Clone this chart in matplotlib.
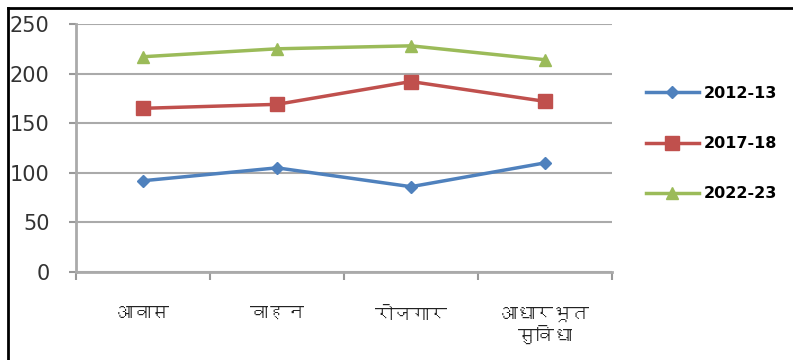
import matplotlib
matplotlib.use('Agg')
import matplotlib.pyplot as plt
from matplotlib import font_manager
from matplotlib.ft2font import FT2Font
from matplotlib.lines import Line2D

categories = ['आवास', 'वाहन', 'रोजगार', 'आधारभूत\nसुविधा']
years = ['2012-13', '2017-18', '2022-23']
v2012 = [92, 105, 86, 110]
v2017 = [165, 169, 192, 172]
v2022 = [217, 225, 228, 214]
yticks = [0, 50, 100, 150, 200, 250]

# find a font that has devanagari glyphs
deva_font = None
for f in font_manager.fontManager.ttflist:
    try:
        if 0x0906 in FT2Font(f.fname).get_charmap():
            deva_font = f.name
            break
    except Exception:
        pass
families = [deva_font, 'DejaVu Sans'] if deva_font else ['DejaVu Sans']

fig = plt.figure(figsize=(7.93, 3.6), dpi=100)
ax = fig.add_axes([76/793, 1-272/360, (612-76)/793, (272-24)/360])

x = list(range(len(categories)))
ax.plot(x, v2012, color='#4F81BD', lw=2.5, marker='D', ms=6, label=years[0])
ax.plot(x, v2017, color='#C0504D', lw=2.5, marker='s', ms=10, label=years[1])
ax.plot(x, v2022, color='#9BBB59', lw=2.5, marker='^', ms=9, label=years[2])

ax.set_xlim(-0.5, 3.5)
ax.set_ylim(0, 250)
ax.set_yticks(yticks)
ax.set_yticklabels([str(t) for t in yticks], fontsize=15, color='#333333')
ax.tick_params(axis='y', length=5, pad=14, color='#999999', width=1.5)
ax.set_xticks([-0.5, 0.5, 1.5, 2.5, 3.5])
ax.set_xticklabels([])
ax.tick_params(axis='x', which='major', length=6, color='#999999', width=1.5, direction='out')
ax.set_xticks(x, minor=True)
ax.set_xticklabels(categories, minor=True, fontsize=13, family=families, color='#222222')
ax.tick_params(axis='x', which='minor', length=0, pad=25)

ax.grid(axis='y', color='#aaaaaa', lw=1.5)
ax.set_axisbelow(True)
for s in ['top', 'right']:
    ax.spines[s].set_visible(False)
ax.spines['left'].set_color('#aaaaaa')
ax.spines['bottom'].set_color('#aaaaaa')
ax.spines['left'].set_linewidth(2)
ax.spines['bottom'].set_linewidth(2)

leg = ax.legend(loc='upper left', bbox_to_anchor=(646/793, 1-86/360), bbox_transform=fig.transFigure,
                frameon=False, prop={'size': 11.5, 'weight': 'bold'}, handlelength=3.3,
                handletextpad=0.3, labelspacing=2.2, borderpad=0, borderaxespad=0)

# border on left and top (image cropped on the other sides)
fig.add_artist(Line2D([8/793, 8/793], [0, 1-8/360], color='black', lw=2))
fig.add_artist(Line2D([8/793, 1], [1-8/360, 1-8/360], color='black', lw=2))

fig.savefig('out.png', dpi=100)
